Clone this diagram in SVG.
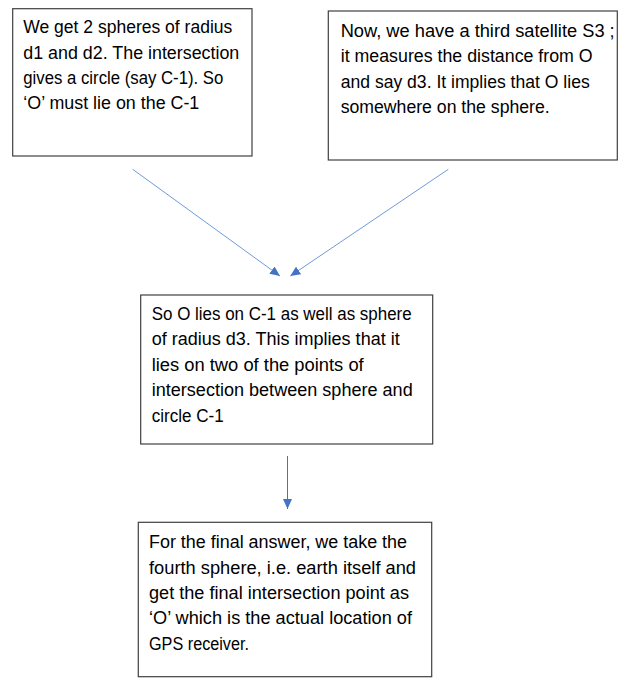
<svg xmlns="http://www.w3.org/2000/svg" width="627" height="687" viewBox="0 0 627 687">
<style>
.box{fill:#ffffff;stroke:#404040;stroke-width:1.2}
.t{font-family:"Liberation Sans",Arial,sans-serif;font-size:18.3px;fill:#000000}
.c{stroke:#6f9bd8;stroke-width:1;fill:none}
</style>
<defs>
<marker id="ah" markerWidth="10" markerHeight="9" refX="10" refY="4.5" orient="auto" markerUnits="userSpaceOnUse">
<path d="M0,0 L10,4.5 L0,9 Z" fill="#4472c4"/>
</marker>
</defs>
<rect width="627" height="687" fill="#ffffff"/>
<g id="node1">
<rect class="box" x="12.7" y="8.7" width="239.3" height="147.3"/>
<text class="t"><tspan x="23.3" y="33.3" textLength="209" lengthAdjust="spacingAndGlyphs">We get 2 spheres of radius</tspan><tspan x="23.3" y="58.6" textLength="216" lengthAdjust="spacingAndGlyphs">d1 and d2. The intersection</tspan><tspan x="23.3" y="83.9" textLength="200" lengthAdjust="spacingAndGlyphs">gives a circle (say C-1). So</tspan><tspan x="23.3" y="109.2" textLength="176" lengthAdjust="spacingAndGlyphs">‘O’ must lie on the C-1</tspan></text>
</g>
<g id="node2">
<rect class="box" x="328.3" y="11" width="289" height="149"/>
<text class="t"><tspan x="340.7" y="36.7" textLength="274" lengthAdjust="spacingAndGlyphs">Now, we have a third satellite S3 ;</tspan><tspan x="340.7" y="62.2" textLength="252" lengthAdjust="spacingAndGlyphs">it measures the distance from O</tspan><tspan x="340.7" y="87.7" textLength="249" lengthAdjust="spacingAndGlyphs">and say d3. It implies that O lies</tspan><tspan x="340.7" y="113.2" textLength="209" lengthAdjust="spacingAndGlyphs">somewhere on the sphere.</tspan></text>
</g>
<g id="node3">
<rect class="box" x="140.7" y="295" width="292" height="149"/>
<text class="t"><tspan x="151.7" y="320" textLength="260" lengthAdjust="spacingAndGlyphs">So O lies on C-1 as well as sphere</tspan><tspan x="151.7" y="345.4" textLength="248" lengthAdjust="spacingAndGlyphs">of radius d3. This implies that it</tspan><tspan x="151.7" y="370.8" textLength="212" lengthAdjust="spacingAndGlyphs">lies on two of the points of</tspan><tspan x="151.7" y="396.2" textLength="261" lengthAdjust="spacingAndGlyphs">intersection between sphere and</tspan><tspan x="151.7" y="421.6" textLength="72" lengthAdjust="spacingAndGlyphs">circle C-1</tspan></text>
</g>
<g id="node4">
<rect class="box" x="138.3" y="522.3" width="293.4" height="154.4"/>
<text class="t"><tspan x="149" y="548.3" textLength="258" lengthAdjust="spacingAndGlyphs">For the final answer, we take the</tspan><tspan x="149" y="573.6" textLength="267" lengthAdjust="spacingAndGlyphs">fourth sphere, i.e. earth itself and</tspan><tspan x="149" y="598.9" textLength="260" lengthAdjust="spacingAndGlyphs">get the final intersection point as</tspan><tspan x="149" y="624.2" textLength="263" lengthAdjust="spacingAndGlyphs">‘O’ which is the actual location of</tspan><tspan x="149" y="649.5" textLength="100" lengthAdjust="spacingAndGlyphs">GPS receiver.</tspan></text>
</g>
<g id="connectors">
<line class="c" x1="132.7" y1="169.3" x2="280" y2="276" marker-end="url(#ah)"/>
<line class="c" x1="448.3" y1="169.3" x2="290.3" y2="276" marker-end="url(#ah)"/>
<line class="c" x1="287.5" y1="456" x2="287.5" y2="509" marker-end="url(#ah)" style="stroke:#4472c4"/>
</g>
</svg>
